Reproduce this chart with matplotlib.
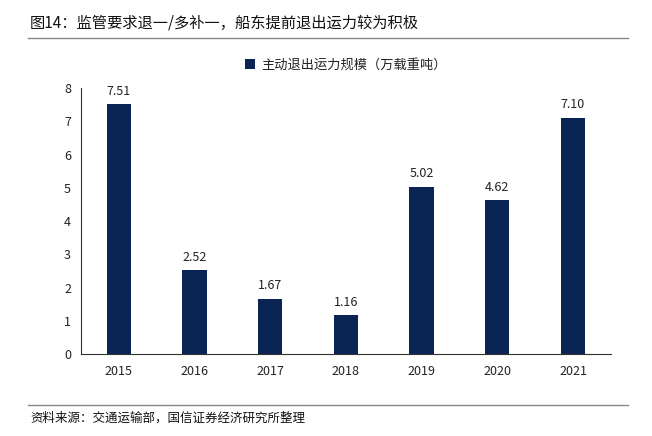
import matplotlib
matplotlib.use('Agg')
import matplotlib.pyplot as plt
from matplotlib.lines import Line2D

plt.rcParams['font.family'] = ['Noto Sans CJK SC', 'DejaVu Sans']

years = ['2015', '2016', '2017', '2018', '2019', '2020', '2021']
values = [7.51, 2.52, 1.67, 1.16, 5.02, 4.62, 7.10]
series_name = '主动退出运力规模（万载重吨）'
bar_color = '#0a2453'

fig = plt.figure(figsize=(6.52, 4.36), dpi=100)
ax = fig.add_axes([0.124, 0.188, 0.813, 0.610])

x = range(len(years))
bars = ax.bar(x, values, width=0.32, color=bar_color, label=series_name)
for xi, v in zip(x, values):
    ax.text(xi, v + 0.2, '%.2f' % v, ha='center', va='bottom', fontsize=9, color='#222222')

ax.set_xlim(-0.5, len(years) - 0.5)
ax.set_ylim(0, 8)
ax.set_yticks(range(0, 9))
ax.set_xticks(list(x))
ax.set_xticklabels(years)
ax.tick_params(axis='both', length=0, labelsize=9, colors='#222222')
ax.tick_params(axis='y', pad=7)
ax.tick_params(axis='x', pad=8)
for s in ['top', 'right']:
    ax.spines[s].set_visible(False)
ax.spines['left'].set_color('#333333')
ax.spines['bottom'].set_color('#333333')

leg = ax.legend(loc='center', bbox_to_anchor=(0.5, 1.085), frameon=False,
                fontsize=9.5, handlelength=0.8, handleheight=0.8, handletextpad=0.5)
for t in leg.get_texts():
    t.set_color('#222222')

fig.text(0.046, 0.948, '图14：监管要求退一/多补一，船东提前退出运力较为积极',
         fontsize=11, va='center', ha='left', color='#111111')
fig.add_artist(Line2D([0.043, 0.963], [0.912, 0.912], color='#888888', lw=1))
fig.add_artist(Line2D([0.043, 0.963], [0.071, 0.071], color='#888888', lw=1))
fig.text(0.046, 0.040, '资料来源：交通运输部，国信证券经济研究所整理',
         fontsize=9, va='center', ha='left', color='#111111')

fig.savefig('out.png', dpi=100)
